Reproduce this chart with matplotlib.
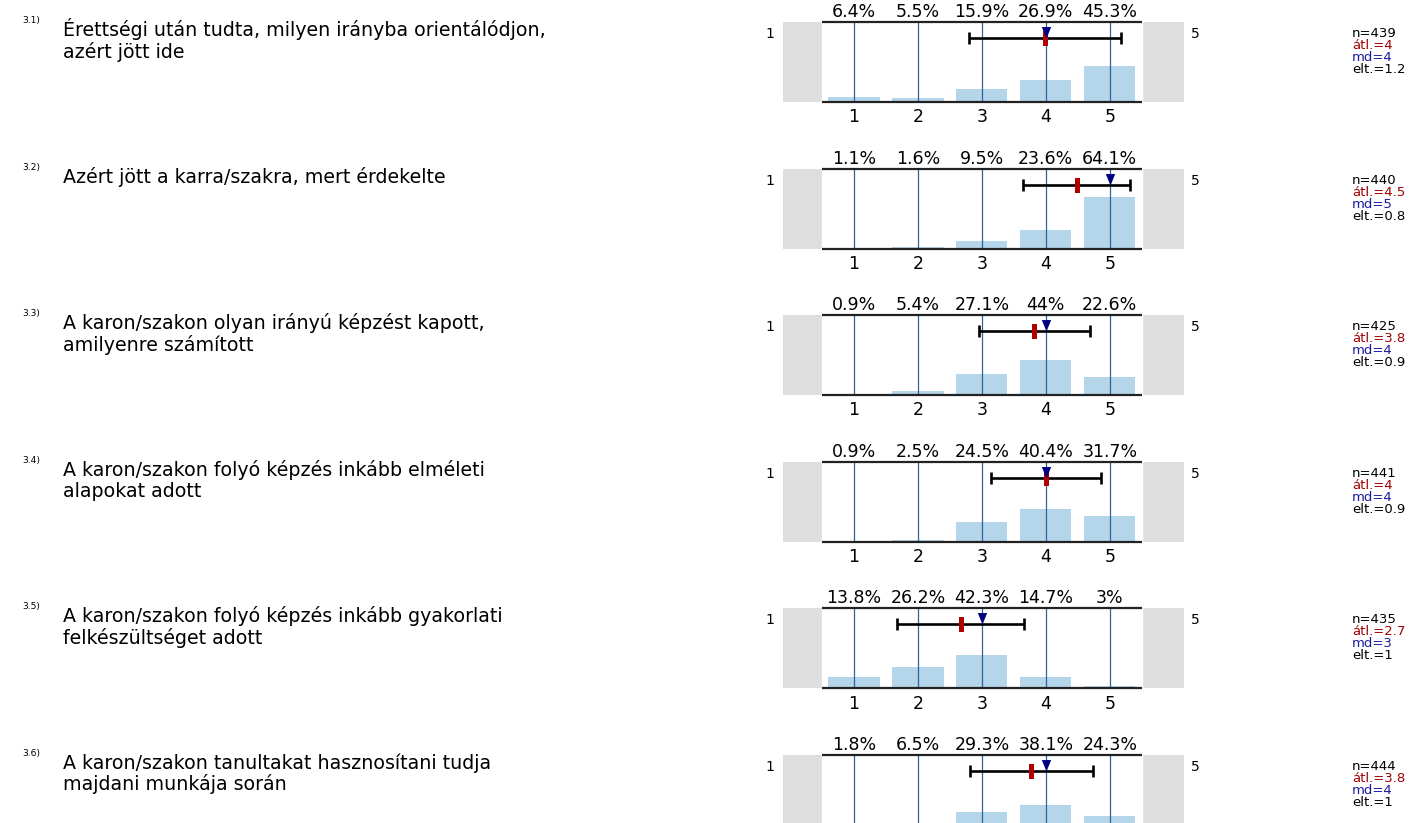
import matplotlib
matplotlib.use('Agg')
import matplotlib.pyplot as plt

# survey items (Hungarian), 5-point scale
item_ids = ['3.1)', '3.2)', '3.3)', '3.4)', '3.5)', '3.6)']
questions = [
    'Érettségi után tudta, milyen irányba orientálódjon,\nazért jött ide',
    'Azért jött a karra/szakra, mert érdekelte',
    'A karon/szakon olyan irányú képzést kapott,\namilyenre számított',
    'A karon/szakon folyó képzés inkább elméleti\nalapokat adott',
    'A karon/szakon folyó képzés inkább gyakorlati\nfelkészültséget adott',
    'A karon/szakon tanultakat hasznosítani tudja\nmajdani munkája során',
]
scale = [1, 2, 3, 4, 5]
pct = [
    [6.4, 5.5, 15.9, 26.9, 45.3],
    [1.1, 1.6, 9.5, 23.6, 64.1],
    [0.9, 5.4, 27.1, 44, 22.6],
    [0.9, 2.5, 24.5, 40.4, 31.7],
    [13.8, 26.2, 42.3, 14.7, 3],
    [1.8, 6.5, 29.3, 38.1, 24.3],
]
n_resp = [439, 440, 425, 441, 435, 444]
means = [3.99, 4.48, 3.82, 4.0, 2.67, 3.77]
medians = [4, 5, 4, 4, 3, 4]
sds = [1.19, 0.83, 0.87, 0.86, 0.99, 0.96]

W, H = 1412, 823
fig = plt.figure(figsize=(W / 100, H / 100), dpi=100)
plt.rcParams['font.family'] = ['DejaVu Sans']


def fx(px):
    return px / W


def fy(py):
    return 1 - py / H


# marker shapes: triangle with tip at the data point, thin vertical bar
tri = [(-4.5, 11), (4.5, 11), (0, 0), (-4.5, 11)]
bar_mark = [(-2.5, -7.5), (2.5, -7.5), (2.5, 7.5), (-2.5, 7.5), (-2.5, -7.5)]

top0 = 22
step = 146.6
ph = 80
for i in range(len(questions)):
    top = top0 + i * step
    ax = fig.add_axes([fx(783), fy(top + ph), fx(1184) - fx(783), ph / H])
    ax.set_facecolor('#dedede')
    ax.set_xlim(-0.11, 6.16)
    ax.set_ylim(0, 100)
    for s in ax.spines.values():
        s.set_visible(False)
    ax.axvspan(0.5, 5.5, color='white', zorder=0)
    ax.bar(scale, pct[i], width=0.8, color='#b5d5eb', zorder=1)
    for v in scale:
        ax.axvline(v, color='#2d64a0', lw=0.9, zorder=2)
    ax.hlines([0, 100], 0.5, 5.5, color='#222222', lw=1.6, zorder=3, clip_on=False)
    ax.set_yticks([])
    ax.set_xticks(scale)
    if top + ph + 25 < H:
        ax.set_xticklabels([str(v) for v in scale])
    else:
        # labels of the last panel fall below the page edge
        ax.set_xticklabels([])
    ax.tick_params(axis='x', length=0, labelsize=12.5, pad=4.5)
    for v, p in zip(scale, pct[i]):
        ax.annotate('{:g}%'.format(p), xy=(v, 100), xytext=(0, 3.6),
                    textcoords='offset points', ha='center', va='baseline',
                    fontsize=12.5, annotation_clip=False)
    # mean +/- sd
    ax.errorbar(means[i], 80, xerr=sds[i], color='black', lw=1.9,
                capsize=4, capthick=1.9, zorder=4)
    ax.plot(means[i], 80, marker=bar_mark, ms=10.8, color='#b00000',
            mec='#b00000', mew=0, zorder=5)
    ax.plot(medians[i], 80, marker=tri, ms=16.5, color='#000080',
            mec='#000080', mew=0, zorder=6)

    # scale end labels
    fig.text(fx(770), fy(top + 16), '1', ha='center', va='baseline', fontsize=10)
    fig.text(fx(1195), fy(top + 16), '5', ha='center', va='baseline', fontsize=10)

    # stats
    stats = ['n={}'.format(n_resp[i]),
             'átl.={:g}'.format(round(means[i], 1)),
             'md={}'.format(medians[i]),
             'elt.={:g}'.format(round(sds[i], 1))]
    cols = ['black', '#a00000', '#1a1aa0', 'black']
    for k, (t, c) in enumerate(zip(stats, cols)):
        fig.text(fx(1352), fy(top + 15 + 12 * k), t, color=c,
                 ha='left', va='baseline', fontsize=9.5)

    # question text
    fig.text(fx(22), fy(top + 1), item_ids[i], ha='left', va='baseline', fontsize=6.6)
    for k, line in enumerate(questions[i].split('\n')):
        fig.text(fx(63), fy(top + 14 + 21.5 * k), line, ha='left', va='baseline',
                 fontsize=13.7)

fig.savefig('out.png', dpi=100)
